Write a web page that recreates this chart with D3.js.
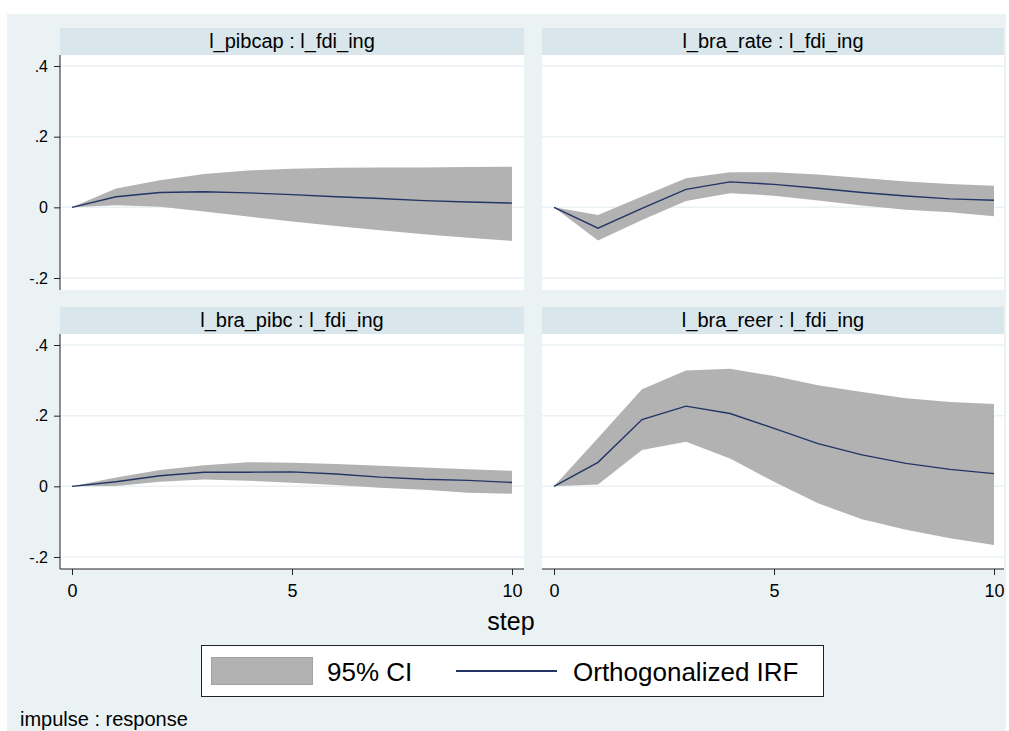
<!DOCTYPE html>
<html>
<head>
<meta charset="utf-8">
<script src="https://cdn.jsdelivr.net/npm/d3@7"></script>
<style>
body { margin: 0; background: #fff; }
svg text { font-family: Arial, "Liberation Sans", sans-serif; fill: #000; }
</style>
</head>
<body>
<svg id="chart" width="1009" height="731"></svg>
<script>
// steps and tick labels
var steps = [0, 1, 2, 3, 4, 5, 6, 7, 8, 9, 10];
var xTicks = [0, 5, 10];
var yTicks = [-0.2, 0, 0.2, 0.4];
var yTickLabels = ["-.2", "0", ".2", ".4"];

var titles = ["l_pibcap : l_fdi_ing", "l_bra_rate : l_fdi_ing", "l_bra_pibc : l_fdi_ing", "l_bra_reer : l_fdi_ing"];

// l_pibcap
var pibcapIrf = [0, 0.030, 0.042, 0.044, 0.041, 0.036, 0.030, 0.025, 0.019, 0.015, 0.012];
var pibcapLo  = [0, 0.006, 0.002, -0.012, -0.026, -0.040, -0.053, -0.065, -0.076, -0.086, -0.095];
var pibcapHi  = [0, 0.053, 0.077, 0.094, 0.104, 0.109, 0.112, 0.113, 0.113, 0.114, 0.115];
// l_bra_rate
var rateIrf = [0, -0.059, -0.003, 0.051, 0.072, 0.065, 0.054, 0.042, 0.032, 0.024, 0.020];
var rateLo  = [0, -0.094, -0.036, 0.018, 0.040, 0.033, 0.019, 0.005, -0.007, -0.014, -0.025];
var rateHi  = [0, -0.022, 0.031, 0.082, 0.099, 0.099, 0.093, 0.083, 0.073, 0.066, 0.061];
// l_bra_pibc
var pibcIrf = [0, 0.013, 0.030, 0.040, 0.040, 0.041, 0.035, 0.026, 0.020, 0.017, 0.011];
var pibcLo  = [0, 0.001, 0.013, 0.019, 0.016, 0.010, 0.004, -0.004, -0.010, -0.018, -0.021];
var pibcHi  = [0, 0.025, 0.046, 0.060, 0.068, 0.067, 0.063, 0.058, 0.053, 0.048, 0.044];
// l_bra_reer
var reerIrf = [0, 0.068, 0.189, 0.227, 0.206, 0.164, 0.121, 0.089, 0.065, 0.048, 0.036];
var reerLo  = [0, 0.005, 0.103, 0.126, 0.079, 0.013, -0.048, -0.093, -0.123, -0.147, -0.166];
var reerHi  = [0, 0.137, 0.275, 0.328, 0.333, 0.312, 0.286, 0.267, 0.249, 0.239, 0.233];

var panels = [
  {title: titles[0], irf: pibcapIrf, lo: pibcapLo, hi: pibcapHi, col: 0, row: 0},
  {title: titles[1], irf: rateIrf, lo: rateLo, hi: rateHi, col: 1, row: 0},
  {title: titles[2], irf: pibcIrf, lo: pibcLo, hi: pibcHi, col: 0, row: 1},
  {title: titles[3], irf: reerIrf, lo: reerLo, hi: reerHi, col: 1, row: 1}
];

var bgCol = "#eaf2f3", stripCol = "#d9e6eb", ciCol = "#b2b2b2", lineCol = "#233566";

var svg = d3.select("#chart");
svg.append("rect").attr("x", 7).attr("y", 14).attr("width", 999).attr("height", 717).attr("fill", bgCol);

var colX = [60, 542], colW = [464, 462];
var rowY = [28, 307], stripH = 27, plotH = 235;

panels.forEach(function(p) {
  var x0 = colX[p.col], w = colW[p.col];
  var top = rowY[p.row], pTop = top + stripH, pBot = pTop + plotH;
  var g = svg.append("g");

  g.append("rect").attr("x", x0).attr("y", top).attr("width", w).attr("height", stripH).attr("fill", stripCol);
  g.append("text").attr("x", x0 + w / 2).attr("y", top + 20)
    .attr("text-anchor", "middle").attr("font-size", 20).text(p.title);

  g.append("rect").attr("x", x0).attr("y", pTop).attr("width", w).attr("height", plotH).attr("fill", "#fff");

  var x = d3.scaleLinear().domain([0, 10]).range([x0 + 12, x0 + 452]);
  var y = d3.scaleLinear().domain([-0.2, 0.4]).range([pBot - 12, pTop + 11]);

  g.selectAll(".grid").data(yTicks).enter().append("line")
    .attr("x1", x0).attr("x2", x0 + w)
    .attr("y1", function(d) { return y(d); }).attr("y2", function(d) { return y(d); })
    .attr("stroke", bgCol).attr("stroke-width", 1.5);

  var area = d3.area()
    .x(function(d, i) { return x(steps[i]); })
    .y0(function(d, i) { return y(p.lo[i]); })
    .y1(function(d, i) { return y(p.hi[i]); });
  g.append("path").datum(p.irf).attr("d", area).attr("fill", ciCol);

  var line = d3.line()
    .x(function(d, i) { return x(steps[i]); })
    .y(function(d) { return y(d); });
  g.append("path").datum(p.irf).attr("d", line).attr("fill", "none")
    .attr("stroke", lineCol).attr("stroke-width", 1.4);

  if (p.col === 0) {
    var ya = g.append("g").attr("transform", "translate(" + x0 + ",0)")
      .call(d3.axisLeft(y).tickValues(yTicks).tickSize(6).tickPadding(6)
        .tickFormat(function(d, i) { return yTickLabels[i]; }));
    ya.select(".domain").attr("d", "M0," + pTop + "V" + pBot).attr("stroke", "#222");
    ya.selectAll(".tick line").attr("stroke", "#222");
    ya.selectAll("text").attr("font-size", 16).attr("font-family", null);
  }
  if (p.row === 1) {
    var xa = g.append("g").attr("transform", "translate(0," + pBot + ")")
      .call(d3.axisBottom(x).tickValues(xTicks).tickSize(6).tickPadding(9).tickFormat(d3.format("d")));
    xa.select(".domain").attr("d", "M" + x0 + ",0H" + (x0 + w)).attr("stroke", "#222");
    xa.selectAll(".tick line").attr("stroke", "#222");
    xa.selectAll("text").attr("font-size", 18).attr("font-family", null);
  }
});

svg.append("text").attr("x", 511).attr("y", 630).attr("text-anchor", "middle")
  .attr("font-size", 25).text("step");

// legend
var lg = svg.append("g");
lg.append("rect").attr("x", 201.5).attr("y", 645.5).attr("width", 622).attr("height", 51)
  .attr("fill", "#fff").attr("stroke", "#222");
lg.append("rect").attr("x", 211.5).attr("y", 657.5).attr("width", 101).attr("height", 27)
  .attr("fill", ciCol).attr("stroke", "#a2a2a2");
lg.append("text").attr("x", 327).attr("y", 681).attr("font-size", 26).text("95% CI");
lg.append("line").attr("x1", 456).attr("x2", 557).attr("y1", 671).attr("y2", 671)
  .attr("stroke", lineCol).attr("stroke-width", 2);
lg.append("text").attr("x", 573).attr("y", 681).attr("font-size", 26).text("Orthogonalized IRF");

svg.append("text").attr("x", 20).attr("y", 726).attr("font-size", 20).text("impulse : response");
</script>
</body>
</html>
